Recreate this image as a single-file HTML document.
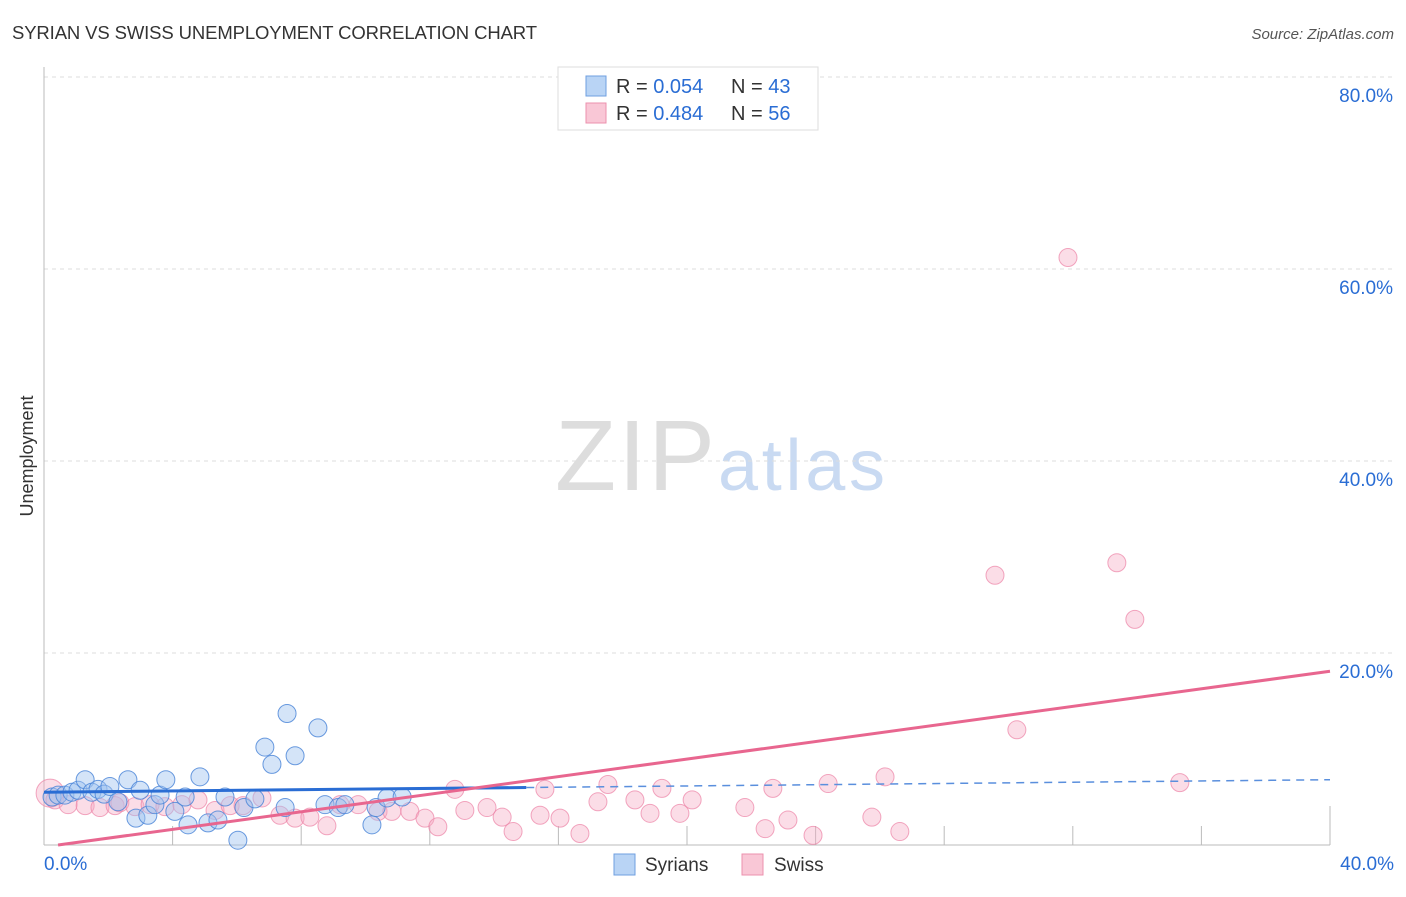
<!DOCTYPE html>
<html><head><meta charset="utf-8"><style>
body{margin:0;background:#fff;font-family:"Liberation Sans",sans-serif;}
svg text{font-family:"Liberation Sans",sans-serif;}
</style></head><body>
<svg width="1406" height="892" viewBox="0 0 1406 892">
<text x="12" y="39" font-size="18.5" fill="#333" textLength="525">SYRIAN VS SWISS UNEMPLOYMENT CORRELATION CHART</text>
<text x="1394" y="39" font-size="15" fill="#555" font-style="italic" text-anchor="end">Source: ZipAtlas.com</text>
<text x="33" y="456" font-size="18" fill="#333" transform="rotate(-90 33 456)" text-anchor="middle">Unemployment</text>
<text x="555" y="490" font-size="100" fill="#ddd" textLength="160" font-family="Liberation Serif">ZIP</text>
<text x="718" y="490" font-size="72" fill="#c9daf2" textLength="167">atlas</text>
<g id="grid"></g>
<g id="marks"></g>
<g>
<rect x="558" y="67" width="260" height="63" fill="#fff" stroke="#ddd"/>
<rect x="586" y="76" width="20" height="20" fill="#b9d4f5" stroke="#6f9fe0"/>
<text x="616" y="93" font-size="20" fill="#333">R = <tspan fill="#2a6dd4">0.054</tspan></text>
<text x="731" y="93" font-size="20" fill="#333">N = <tspan fill="#2a6dd4">43</tspan></text>
<rect x="586" y="103" width="20" height="20" fill="#f9c7d6" stroke="#ec91ae"/>
<text x="616" y="120" font-size="20" fill="#333">R = <tspan fill="#2a6dd4">0.484</tspan></text>
<text x="731" y="120" font-size="20" fill="#333">N = <tspan fill="#2a6dd4">56</tspan></text>
</g>
<g>
<rect x="614" y="854" width="21" height="21" fill="#b9d4f5" stroke="#6f9fe0"/>
<text x="645" y="871" font-size="19" fill="#333">Syrians</text>
<rect x="742" y="854" width="21" height="21" fill="#f9c7d6" stroke="#ec91ae"/>
<text x="774" y="871" font-size="19" fill="#333">Swiss</text>
</g>
</svg>
<script>
const yTicks=[0,20,40,60,80];
const xTickVals=[0,4,8,12,16,20,24,28,32,36,40];
const blueX=[0.25,0.44,0.65,0.87,1.06,1.28,1.49,1.68,1.87,2.05,2.3,2.61,2.86,2.99,3.23,3.45,3.61,3.79,4.07,4.39,4.48,4.85,5.1,5.41,5.63,6.03,6.22,6.56,6.87,7.09,7.56,7.5,7.81,8.52,8.74,9.15,9.36,10.2,10.33,10.67,11.14];
const blueY=[5.0,5.2,5.2,5.5,5.7,6.8,5.5,5.8,5.3,6.1,4.5,6.8,2.8,5.7,3.1,4.2,5.2,6.8,3.5,5.0,2.1,7.1,2.3,2.6,5.0,0.5,3.9,4.8,10.2,8.4,13.7,3.9,9.3,12.2,4.2,3.9,4.2,2.1,3.9,4.9,5.0];
const pinkX=[0.19,0.34,0.75,1.28,1.74,2.21,2.36,2.83,3.3,3.76,4.29,4.79,5.32,5.79,6.19,6.78,7.34,7.81,8.27,8.8,9.21,9.77,10.39,10.82,11.38,11.85,12.25,12.78,13.09,13.78,14.25,14.59,15.43,15.58,16.05,16.67,17.23,17.54,18.38,18.85,19.22,19.78,20.16,21.8,22.43,22.67,23.14,23.92,24.39,25.75,26.16,26.62,29.58,30.26,31.85,33.37,33.93,35.33];
const pinkY=[5.4,4.7,4.2,4.1,3.9,4.1,4.4,4.0,4.2,4.0,4.2,4.7,3.6,4.1,4.1,4.9,3.1,2.8,2.9,2.0,4.2,4.2,3.5,3.5,3.5,2.8,1.9,5.8,3.6,3.9,2.9,1.4,3.1,5.8,2.8,1.2,4.5,6.3,4.7,3.3,5.9,3.3,4.7,3.9,1.7,5.9,2.6,1.0,6.4,2.9,7.1,1.4,28.1,12.0,61.2,29.4,23.5,6.5];
const blueTrend=[5.5,6.8], pinkTrend=[-0.2,18.1];
const X=v=>44+v*32.15, Y=v=>845-v*9.6;
const NS='http://www.w3.org/2000/svg';
const g=document.getElementById('grid'), m=document.getElementById('marks');
function mk(tag,at,parent){const e=document.createElementNS(NS,tag);for(const k in at)e.setAttribute(k,at[k]);parent.appendChild(e);return e;}
yTicks.forEach(t=>{
 if(t>0){const l=mk('line',{x1:44,x2:1394,y1:Y(t),y2:Y(t),stroke:'#ddd','stroke-dasharray':'4,4'},g);
 
 
 const tx=mk('text',{x:1393,y:Y(t)+25,'font-size':19,fill:'#2a6dd4','text-anchor':'end'},g);tx.textContent=t.toFixed(1)+'%';
 
 }
});
mk('line',{x1:44,x2:44,y1:67,y2:845,stroke:'#bbb'},g);
mk('line',{x1:44,x2:1330,y1:845,y2:845,stroke:'#bbb'},g);
xTickVals.forEach(t=>{if(t>0){const l=mk('line',{x1:X(t),x2:X(t),y1:t==40?806:826,y2:845,stroke:'#bbb'},g);
 
 }});
[[0,'0.0%','start',44],[40,'40.0%','end',1394]].forEach(a=>{const tx=mk('text',{x:a[3],y:870,'font-size':19,fill:'#2a6dd4','text-anchor':a[2]},g);tx.textContent=a[1];
 
 });
pinkX.forEach((x,i)=>{const c=mk('circle',{cx:X(x),cy:Y(pinkY[i]),r:i==0?14:9,fill:'rgba(246,170,195,0.4)',stroke:'rgba(236,130,165,0.7)'},m);
 
 });
blueX.forEach((x,i)=>{const c=mk('circle',{cx:X(x),cy:Y(blueY[i]),r:9,fill:'rgba(160,196,240,0.45)',stroke:'rgba(70,130,215,0.8)'},m);
 
 });
const bAt=x=>blueTrend[0]+(blueTrend[1]-blueTrend[0])*x/40;
let l1=mk('line',{x1:X(0),y1:Y(bAt(0)),x2:X(15),y2:Y(bAt(15)),stroke:'#2a6dd4','stroke-width':3},m);


let l2=mk('line',{x1:X(15),y1:Y(bAt(15)),x2:X(40),y2:Y(bAt(40)),stroke:'#5a8fdd','stroke-width':1.5,'stroke-dasharray':'8,6'},m);


const p0=-pinkTrend[0]/(pinkTrend[1]-pinkTrend[0])*40;
let l3=mk('line',{x1:X(p0),y1:Y(0),x2:X(40),y2:Y(pinkTrend[1]),stroke:'#e8668f','stroke-width':3},m);


</script>
</body></html>
